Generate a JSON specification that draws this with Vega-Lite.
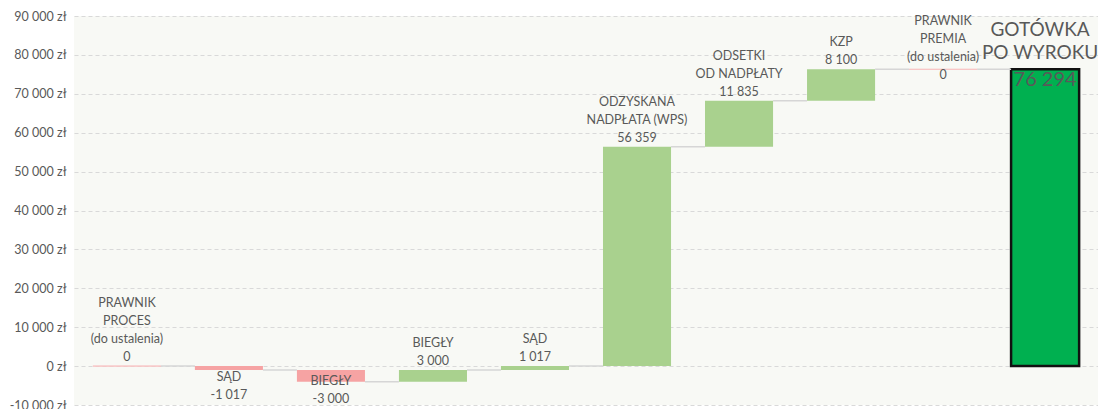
{
  "$schema": "https://vega.github.io/schema/vega-lite/v6.json",
  "autosize": {"type": "none"},
  "width": 1024,
  "height": 389,
  "padding": {"left": 74, "top": 16, "right": 0, "bottom": 4},
  "background": "#ffffff",
  "config": {
    "view": {"fill": "#F8F9F5", "stroke": null},
    "font": "Lato",
    "text": {"font": "Lato", "color": "#595959"},
    "axisY": {"labelOverlap": false, "tickCount": 12, "grid": true, "domain": false, "ticks": false,
              "labelColor": "#595959", "labelFontSize": 12.5, "labelFont": "Lato", "labelPadding": 8,
              "gridColor": "#D9D9D9", "gridDash": [4, 3], "gridWidth": 1, "title": null}
  },
  "data": {
    "values": [
      {"cat": "c01", "next": "c02", "start": 0, "end": 0, "kind": "zero", "pos": "above", "lines": ["PRAWNIK", "PROCES", "(do ustalenia)", "0"]},
      {"cat": "c02", "next": "c03", "start": 0, "end": -1017, "kind": "neg", "pos": "below", "lines": ["SĄD", "-1 017"]},
      {"cat": "c03", "next": "c04", "start": -1017, "end": -4017, "kind": "neg", "pos": "below", "lines": ["BIEGŁY", "-3 000"]},
      {"cat": "c04", "next": "c05", "start": -4017, "end": -1017, "kind": "pos", "pos": "above", "lines": ["BIEGŁY", "3 000"]},
      {"cat": "c05", "next": "c06", "start": -1017, "end": 0, "kind": "pos", "pos": "above", "lines": ["SĄD", "1 017"]},
      {"cat": "c06", "next": "c07", "start": 0, "end": 56359, "kind": "pos", "pos": "above", "lines": ["ODZYSKANA", "NADPŁATA (WPS)", "56 359"]},
      {"cat": "c07", "next": "c08", "start": 56359, "end": 68194, "kind": "pos", "pos": "above", "lines": ["ODSETKI", "OD NADPŁATY", "11 835"]},
      {"cat": "c08", "next": "c09", "start": 68194, "end": 76294, "kind": "pos", "pos": "above", "lines": ["KZP", "8 100"]},
      {"cat": "c09", "next": "c10", "start": 76294, "end": 76294, "kind": "zero", "pos": "premia", "lines": ["PRAWNIK", "PREMIA", "(do ustalenia)", "0"]},
      {"cat": "c10", "next": null, "start": 0, "end": 76294, "kind": "total", "pos": "total", "lines": ["GOTÓWKA", "PO WYROKU"], "value": "76 294"}
    ]
  },
  "encoding": {
    "x": {"field": "cat", "type": "nominal", "axis": null, "sort": null,
          "scale": {"paddingInner": 0.333, "paddingOuter": 0.185}}
  },
  "layer": [
    {
      "mark": {"type": "bar"},
      "encoding": {
        "y": {"field": "start", "type": "quantitative",
              "scale": {"domain": [-10000, 90000], "nice": false, "zero": false},
              "axis": {"values": [-10000, 0, 10000, 20000, 30000, 40000, 50000, 60000, 70000, 80000, 90000],
                       "tickCount": 12,
                       "labelExpr": "replace(replace(format(datum.value, ','), ',', ' '), '−', '-') + ' zł'"}},
        "y2": {"field": "end"},
        "color": {"field": "kind", "type": "nominal", "legend": null,
                  "scale": {"domain": ["neg", "pos", "zero", "total"], "range": ["#F6A3A3", "#A9D18E", "#F6A3A3", "#00B050"]}},
        "stroke": {"field": "kind", "type": "nominal", "legend": null,
                   "scale": {"domain": ["neg", "pos", "zero", "total"], "range": ["transparent", "transparent", "#F8C4C4", "#111111"]}},
        "strokeWidth": {"condition": {"test": "datum.kind == 'total'", "value": 2.5}, "value": 1}
      }
    },
    {
      "transform": [{"filter": "datum.next != null"}],
      "mark": {"type": "rule", "color": "#D6D6D6", "strokeWidth": 1.5},
      "encoding": {
        "x": {"field": "cat", "type": "nominal", "bandPosition": 1, "sort": null},
        "x2": {"field": "next", "bandPosition": 0},
        "y": {"field": "end", "type": "quantitative"}
      }
    },
    {
      "transform": [{"filter": "datum.pos == 'above' && length(datum.lines) == 2"}],
      "mark": {"type": "text", "baseline": "bottom", "dy": -20, "fontSize": 12.5, "lineHeight": 18},
      "encoding": {"y": {"field": "end", "type": "quantitative"}, "text": {"field": "lines"}}
    },
    {
      "transform": [{"filter": "datum.pos == 'above' && length(datum.lines) == 3"}],
      "mark": {"type": "text", "baseline": "bottom", "dy": -38, "fontSize": 12.5, "lineHeight": 18},
      "encoding": {"y": {"field": "end", "type": "quantitative"}, "text": {"field": "lines"}}
    },
    {
      "transform": [{"filter": "datum.pos == 'above' && length(datum.lines) == 4"}],
      "mark": {"type": "text", "baseline": "bottom", "dy": -56, "fontSize": 12.5, "lineHeight": 18},
      "encoding": {"y": {"field": "end", "type": "quantitative"}, "text": {"field": "lines"}}
    },
    {
      "transform": [{"filter": "datum.pos == 'below'"}],
      "mark": {"type": "text", "baseline": "top", "dy": 5, "fontSize": 12.5, "lineHeight": 18},
      "encoding": {"y": {"field": "start", "type": "quantitative"}, "text": {"field": "lines"}}
    },
    {
      "transform": [{"filter": "datum.pos == 'premia'"}],
      "mark": {"type": "text", "baseline": "top", "dy": -54, "fontSize": 12.5, "lineHeight": 18},
      "encoding": {"y": {"field": "end", "type": "quantitative"}, "text": {"field": "lines"}}
    },
    {
      "transform": [{"filter": "datum.pos == 'total'"}],
      "mark": {"type": "text", "baseline": "bottom", "dy": -29, "dx": -5, "fontSize": 19, "lineHeight": 23},
      "encoding": {"y": {"field": "end", "type": "quantitative"}, "text": {"field": "lines"}}
    },
    {
      "transform": [{"filter": "datum.pos == 'total'"}],
      "mark": {"type": "text", "baseline": "top", "dy": 1, "fontSize": 20},
      "encoding": {"y": {"field": "end", "type": "quantitative"}, "text": {"field": "value"}}
    }
  ]
}
